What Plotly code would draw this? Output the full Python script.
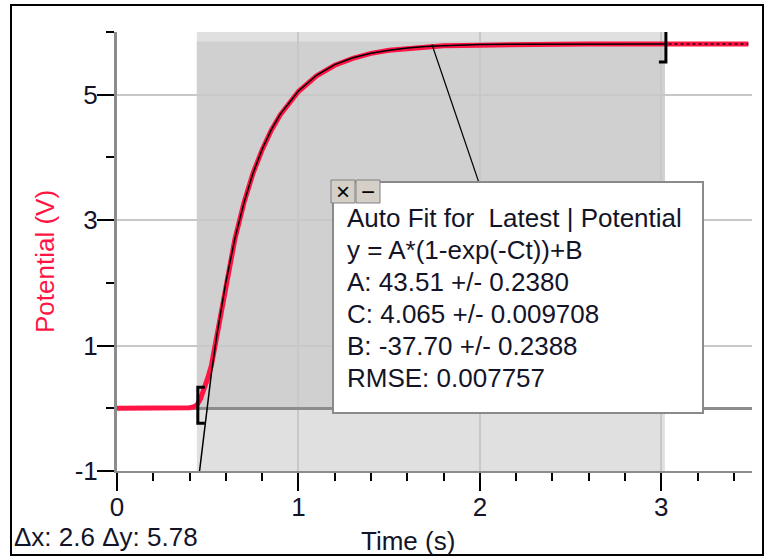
import plotly.graph_objects as go

# ---------------- data ----------------
time_s = [0.0, 0.1, 0.2, 0.3, 0.4, 0.42, 0.44, 0.46, 0.48, 0.50, 0.52, 0.55, 0.60, 0.65,
          0.70, 0.75, 0.80, 0.85, 0.90, 1.0, 1.1, 1.2, 1.3, 1.4, 1.5, 1.6, 1.7, 1.8,
          2.0, 2.2, 2.4, 2.6, 2.8, 3.0, 3.04, 3.2, 3.35, 3.48]
potential_v = [0.0, 0.0, 0.0, 0.0, 0.01, 0.02, 0.05, 0.15, 0.30, 0.48, 0.68, 1.15, 2.00, 2.70,
               3.28, 3.75, 4.12, 4.43, 4.68, 5.05, 5.30, 5.47, 5.58, 5.66, 5.71, 5.74, 5.76, 5.78,
               5.79, 5.80, 5.80, 5.81, 5.81, 5.81, 5.81, 5.81, 5.81, 5.81]

fit_time = [0.455, 0.47, 0.49, 0.50, 0.52, 0.55, 0.60, 0.65, 0.70, 0.75, 0.80, 0.85, 0.90,
            1.0, 1.1, 1.2, 1.3, 1.4, 1.5, 1.6, 1.7, 1.8, 2.0, 2.2, 2.5, 2.8, 3.02]
fit_potential = [-1.0, -0.63, -0.13, 0.11, 0.55, 1.16, 2.01, 2.71, 3.28, 3.75, 4.13, 4.44, 4.69,
                 5.06, 5.31, 5.48, 5.59, 5.66, 5.71, 5.745, 5.77, 5.78, 5.80, 5.805, 5.81, 5.81, 5.81]

sel_start, sel_end = 0.44, 3.02          # selected region (time)
sel_vmin, sel_vmax = 0.0, 5.85           # data extent inside selection
leader_t, leader_v = 1.736, 5.80         # where the fit box leader touches the curve

x_range = [0, 3.5]
y_range = [-1, 6]
x_ticks = [0, 1, 2, 3]
y_ticks = [-1, 1, 3, 5]

fit_lines = [
    "Auto Fit for  Latest | Potential",
    "y = A*(1-exp(-Ct))+B",
    "A: 43.51 +/- 0.2380",
    "C: 4.065 +/- 0.009708",
    "B: -37.70 +/- 0.2388",
    "RMSE: 0.007757",
]
delta_text = "Δx: 2.6 Δy: 5.78"

# ---------------- layout geometry ----------------
W, H = 765, 558
ML, MR, MT, MB = 117, 13, 32, 87
PW, PH = W - ML - MR, H - MT - MB


def px(xp):
    return (xp - ML) / PW


def py(yp):
    return (H - MB - yp) / PH


def pt(xp):
    return x_range[0] + px(xp) * (x_range[1] - x_range[0])


def pv(yp):
    return y_range[0] + py(yp) * (y_range[1] - y_range[0])


FONT = "Arial, Liberation Sans, sans-serif"
RED = "#ff1444"
TXT = "#141428"
FS = 26

# fit box geometry (pixels)
BX0, BX1, BY0, BY1 = 333, 703, 182, 413

fig = go.Figure()

fig.add_trace(go.Scatter(x=time_s, y=potential_v, mode="lines",
                         line=dict(color=RED, width=5), hoverinfo="skip"))
fig.add_trace(go.Scatter(x=fit_time, y=fit_potential, mode="lines",
                         line=dict(color="black", width=1.5), hoverinfo="skip"))
tail_t = [t for t in time_s if t > sel_end]
tail_v = [v for t, v in zip(time_s, potential_v) if t > sel_end]
fig.add_trace(go.Scatter(x=tail_t, y=tail_v, mode="lines",
                         line=dict(color="#300010", width=1.5, dash="dot"), hoverinfo="skip"))

shapes = [
    dict(type="rect", xref="x", yref="y domain", x0=sel_start, x1=sel_end, y0=0, y1=1,
         fillcolor="#e0e0e0", line_width=0, layer="below"),
    dict(type="rect", xref="x", yref="y", x0=sel_start, x1=sel_end, y0=sel_vmin, y1=sel_vmax,
         fillcolor="#d0d0d0", line_width=0, layer="below"),
    # selection brackets
    dict(type="path", xref="x", yref="y", xsizemode="pixel", ysizemode="pixel",
         xanchor=sel_start, yanchor=sel_vmin,
         path="M 8 21 L 1 21 L 1 -15 L 8 -15", line=dict(color="black", width=3)),
    dict(type="path", xref="x", yref="y", xsizemode="pixel", ysizemode="pixel",
         xanchor=sel_end, yanchor=potential_v[-1],
         path="M -6 20 L 1 20 L 1 -18 L -6 -18", line=dict(color="black", width=3)),
    # leader from curve to fit box centre
    dict(type="line", xref="x", yref="y", x0=leader_t, y0=leader_v,
         x1=pt((BX0 + BX1) / 2), y1=pv((BY0 + BY1) / 2),
         line=dict(color="black", width=1.2), layer="above"),
    # fit box
    dict(type="rect", xref="paper", yref="paper", x0=px(BX0), x1=px(BX1), y0=py(BY1), y1=py(BY0),
         fillcolor="white", line=dict(color="#8a8a8a", width=2), layer="above"),
    # window buttons
    dict(type="rect", xref="paper", yref="paper", x0=px(331), x1=px(355), y0=py(203), y1=py(180),
         fillcolor="#d4d0c8", line=dict(color="#808080", width=1), layer="above"),
    dict(type="rect", xref="paper", yref="paper", x0=px(356), x1=px(380), y0=py(203), y1=py(180),
         fillcolor="#d4d0c8", line=dict(color="#808080", width=1), layer="above"),
    # outer frame
    dict(type="rect", xref="paper", yref="paper", x0=px(11), x1=px(763), y0=py(555), y1=py(5),
         line=dict(color="black", width=2), fillcolor="rgba(0,0,0,0)", layer="above"),
]

annotations = []
for i, line in enumerate(fit_lines):
    annotations.append(dict(x=px(345), y=py(218 + 32 * i), xref="paper", yref="paper",
                            text=line, showarrow=False, xanchor="left", yanchor="middle",
                            font=dict(family=FONT, size=FS, color=TXT)))

annotations += [
    dict(x=px(343), y=py(191.5), xref="paper", yref="paper", text="×", showarrow=False,
         xanchor="center", yanchor="middle", font=dict(family=FONT, size=24, color="black")),
    dict(x=px(368), y=py(191.5), xref="paper", yref="paper", text="−", showarrow=False,
         xanchor="center", yanchor="middle", font=dict(family=FONT, size=24, color="black")),
    dict(x=px(12), y=py(537), xref="paper", yref="paper", text=delta_text, showarrow=False,
         xanchor="left", yanchor="middle", font=dict(family=FONT, size=FS, color=TXT)),
    dict(x=px(408), y=py(541), xref="paper", yref="paper", text="Time (s)", showarrow=False,
         xanchor="center", yanchor="middle", font=dict(family=FONT, size=FS, color=TXT)),
    dict(x=px(45), y=py(262), xref="paper", yref="paper", text="Potential (V)", showarrow=False,
         textangle=-90, xanchor="center", yanchor="middle",
         font=dict(family=FONT, size=FS, color=RED)),
]

fig.update_layout(
    width=W, height=H, margin=dict(l=ML, r=MR, t=MT, b=MB, pad=0),
    paper_bgcolor="white", plot_bgcolor="white", showlegend=False,
    shapes=shapes, annotations=annotations,
    font=dict(family=FONT, size=FS, color=TXT),
)
fig.update_xaxes(range=x_range, tickvals=x_ticks, ticktext=[str(v) for v in x_ticks],
                 ticks="outside", ticklen=18, tickwidth=2, tickcolor="black",
                 ticklabelstandoff=-6,
                 showline=True, linecolor="#8c8c8c", linewidth=2,
                 showgrid=True, gridcolor="#c8c8c8", gridwidth=1.5, zeroline=False,
                 minor=dict(dtick=0.2, tick0=0, ticks="outside", ticklen=8, tickwidth=2,
                            tickcolor="black", showgrid=False),
                 tickfont=dict(family=FONT, size=FS, color=TXT))
fig.update_yaxes(range=y_range, tickvals=y_ticks, ticktext=[str(v) for v in y_ticks],
                 ticks="outside", ticklen=17, tickwidth=2, tickcolor="black",
                 ticklabelstandoff=-6,
                 showline=True, linecolor="#8c8c8c", linewidth=3,
                 showgrid=True, gridcolor="#c8c8c8", gridwidth=1.5,
                 zeroline=True, zerolinecolor="#8c8c8c", zerolinewidth=3,
                 minor=dict(dtick=1, tick0=0, ticks="outside", ticklen=8, tickwidth=2,
                            tickcolor="black", showgrid=False),
                 tickfont=dict(family=FONT, size=FS, color=TXT))

fig.write_html("out.html", config={"displayModeBar": False},
               post_script="document.body.style.margin='0';document.body.style.overflow='hidden';")
